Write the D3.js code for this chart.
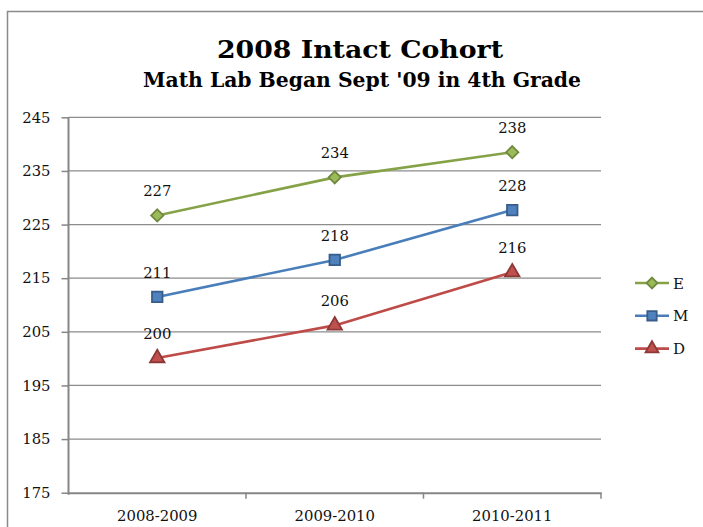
<!DOCTYPE html>
<html>
<head>
<meta charset="utf-8">
<script src="https://cdn.jsdelivr.net/npm/d3@7"></script>
<style>
  body { margin: 0; background: #fff; }
  svg { display: block; }
</style>
</head>
<body>
<script>
// chart values
var categories = ["2008-2009", "2009-2010", "2010-2011"];
var seriesNames = ["E", "M", "D"];
var valuesE = [226.7, 233.8, 238.5];
var valuesM = [211.5, 218.4, 227.7];
var valuesD = [200.1, 206.2, 216.1];
var pointLabels = {E: ["227", "234", "238"], M: ["211", "218", "228"], D: ["200", "206", "216"]};
var yTicks = [175, 185, 195, 205, 215, 225, 235, 245];

var width = 703, height = 527;
var svg = d3.select("body").append("svg").attr("width", width).attr("height", height);

// outer chart frame (runs off the right and bottom edges)
svg.append("rect")
    .attr("x", 7.5).attr("y", 11.5)
    .attr("width", 900).attr("height", 700)
    .attr("fill", "white")
    .attr("stroke", "#8a8a8a")
    .attr("stroke-width", 1.5);

var serif = "'DejaVu Serif', 'Liberation Serif', serif";
var labelSize = "14.8px";

svg.append("text")
    .attr("x", 217).attr("y", 58.3)
    .attr("textLength", 286).attr("lengthAdjust", "spacingAndGlyphs")
    .style("font-family", serif).style("font-weight", "bold").style("font-size", "24.5px")
    .text("2008 Intact Cohort");

svg.append("text")
    .attr("x", 143).attr("y", 86.7)
    .attr("textLength", 438).attr("lengthAdjust", "spacingAndGlyphs")
    .style("font-family", serif).style("font-weight", "bold").style("font-size", "20.5px")
    .text("Math Lab Began Sept '09 in 4th Grade");

var x = d3.scaleBand().domain(categories).range([68.5, 601]).padding(0);
var y = d3.scaleLinear().domain([175, 245]).range([492.7, 117.3]);

var plot = svg.append("g");

// gridlines
plot.selectAll(".grid")
    .data(yTicks.slice(1))
    .enter().append("line")
    .attr("class", "grid")
    .attr("x1", x.range()[0]).attr("x2", x.range()[1])
    .attr("y1", function (d) { return y(d); })
    .attr("y2", function (d) { return y(d); })
    .attr("stroke", "#8c8c8c")
    .attr("stroke-width", 1.2);

// y axis
var yAxis = d3.axisLeft(y).tickValues(yTicks).tickSize(7).tickPadding(11);
var yg = plot.append("g").attr("transform", "translate(" + x.range()[0] + ",0)").call(yAxis);
yg.select(".domain").attr("stroke", "#868686").attr("stroke-width", 2)
    .attr("d", "M0," + y(245) + "V" + (y(175) + 2));
yg.selectAll(".tick line").attr("stroke", "#868686").attr("stroke-width", 1.5);
yg.selectAll(".tick text")
    .style("font-family", serif).style("font-size", labelSize).attr("fill", "#111");

// x axis
var xAxis = d3.axisBottom(x).tickSize(0).tickPadding(18);
var xg = plot.append("g").attr("transform", "translate(0," + y(175) + ")").call(xAxis);
xg.select(".domain").attr("stroke", "#868686").attr("stroke-width", 2);
xg.selectAll(".tick text")
    .style("font-family", serif).style("font-size", labelSize).attr("fill", "#111");
xg.selectAll(".band-tick")
    .data(categories)
    .enter().append("line")
    .attr("class", "band-tick")
    .attr("x1", function (d) { return x(d) + x.bandwidth(); })
    .attr("x2", function (d) { return x(d) + x.bandwidth(); })
    .attr("y1", 0).attr("y2", 6)
    .attr("stroke", "#868686").attr("stroke-width", 1.5);

// square diamond (a square turned 45 degrees), like the office marker
var squareDiamond = {
    draw: function (context, size) {
        var r = Math.sqrt(size / 2);
        context.moveTo(0, -r);
        context.lineTo(r, 0);
        context.lineTo(0, r);
        context.lineTo(-r, 0);
        context.closePath();
    }
};

var series = [
    {name: "E", values: valuesE, line: "#85A246", fill: "#9BBB59", stroke: "#71893F", shape: squareDiamond, size: 75},
    {name: "M", values: valuesM, line: "#4A7EBB", fill: "#4F81BD", stroke: "#385D8A", shape: d3.symbolSquare, size: 110},
    {name: "D", values: valuesD, line: "#BE4B48", fill: "#C0504D", stroke: "#8C3836", shape: d3.symbolTriangle, size: 90}
];

var line = d3.line()
    .x(function (d, i) { return x(categories[i]) + x.bandwidth() / 2; })
    .y(function (d) { return y(d); });

series.forEach(function (s) {
    var g = plot.append("g");
    g.append("path")
        .attr("d", line(s.values))
        .attr("fill", "none")
        .attr("stroke", s.line)
        .attr("stroke-width", 2.6);
    g.selectAll(".pt")
        .data(s.values)
        .enter().append("path")
        .attr("class", "pt")
        .attr("transform", function (d, i) {
            return "translate(" + (x(categories[i]) + x.bandwidth() / 2) + "," + y(d) + ")";
        })
        .attr("d", d3.symbol().type(s.shape).size(s.size))
        .attr("fill", s.fill)
        .attr("stroke", s.stroke)
        .attr("stroke-width", 1.8);
    g.selectAll(".lbl")
        .data(s.values)
        .enter().append("text")
        .attr("class", "lbl")
        .attr("x", function (d, i) { return x(categories[i]) + x.bandwidth() / 2; })
        .attr("y", function (d) { return y(d) - 19; })
        .attr("text-anchor", "middle")
        .style("font-family", serif).style("font-size", labelSize).attr("fill", "#111")
        .text(function (d, i) { return pointLabels[s.name][i]; });
});

// legend
var legend = svg.selectAll(".legend")
    .data(series)
    .enter().append("g")
    .attr("class", "legend")
    .attr("transform", function (d, i) { return "translate(635," + (283 + i * 32.8) + ")"; });

legend.append("line")
    .attr("x1", 0).attr("x2", 34)
    .attr("stroke", function (d) { return d.line; })
    .attr("stroke-width", 2.6);
legend.append("path")
    .attr("transform", "translate(17,0)")
    .attr("d", function (d) { return d3.symbol().type(d.shape).size(d.size * 0.8)(); })
    .attr("fill", function (d) { return d.fill; })
    .attr("stroke", function (d) { return d.stroke; })
    .attr("stroke-width", 1.8);
legend.append("text")
    .attr("x", 38).attr("y", 5.5)
    .style("font-family", serif).style("font-size", "15px").attr("fill", "#111")
    .text(function (d) { return d.name; });
</script>
</body>
</html>
